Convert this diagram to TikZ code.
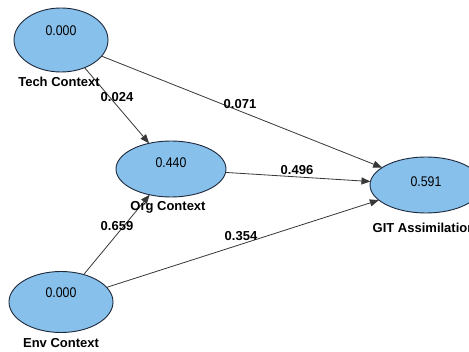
\documentclass[tikz,border=0pt]{standalone}
\usepackage{fontspec}
\setmainfont{Liberation Sans}
\newfontfamily\valfont[FakeStretch=0.88]{Liberation Sans}
\usetikzlibrary{shapes.geometric,arrows.meta}
\definecolor{lvfill}{RGB}{135,192,234}
\definecolor{lvdraw}{RGB}{30,40,60}
\definecolor{pathcol}{RGB}{55,55,55}
\tikzset{
  lv/.style={ellipse, draw=lvdraw, fill=lvfill, line width=0.9pt, inner sep=0pt, outer sep=0pt},
  val/.style={font=\valfont\fontsize{14}{14}\selectfont, text=black},
  lvname/.style={font=\bfseries\fontsize{13}{13}\selectfont, text=black, inner sep=0pt},
  coef/.style={font=\bfseries\fontsize{13}{13}\selectfont, text=black, inner sep=0pt},
  pathline/.style={draw=pathcol, line width=0.8pt, -{Triangle[length=9pt,width=7pt]}, shorten >=0pt}
}
\begin{document}
\begin{tikzpicture}[x=1pt,y=-1pt]
\useasboundingbox (0,0) rectangle (469,352);
\clip (0,0) rectangle (469,352);
\fill[white] (0,0) rectangle (469,352);
% latent variables
\node[lv, minimum width=94pt, minimum height=64pt] (tech) at (61,40) {};
\node[lv, minimum width=110pt, minimum height=56pt] (org) at (171,169) {};
\node[lv, minimum width=104pt, minimum height=61pt] (env) at (61,302) {};
\node[lv, minimum width=112pt, minimum height=56pt] (git) at (426,185) {};
% paths
\draw[pathline] (tech) -- (git);
\draw[pathline] (tech) -- (org);
\draw[pathline] (org) -- (git);
\draw[pathline] (env) -- (org);
\draw[pathline] (env) -- (git);
% values inside
\node[val] (techv) at (61,31) {0.000};
\node[val] (orgv) at (171,163) {0.440};
\node[val] (envv) at (61,293) {0.000};
\node[val] (gitv) at (426,182) {0.591};
% names
\node[lvname] (techn) at (59,82) {Tech Context};
\node[lvname] (orgn) at (168,207) {Org Context};
\node[lvname] (envn) at (61,343) {Env Context};
\node[lvname] (gitn) at (424,228) {GIT Assimilation};
% coefficients
\node[coef] (c1) at (117,97) {0.024};
\node[coef] (c2) at (240,104) {0.071};
\node[coef] (c3) at (297,170) {0.496};
\node[coef] (c4) at (117,226) {0.659};
\node[coef] (c5) at (241,236) {0.354};
\end{tikzpicture}
\end{document}
